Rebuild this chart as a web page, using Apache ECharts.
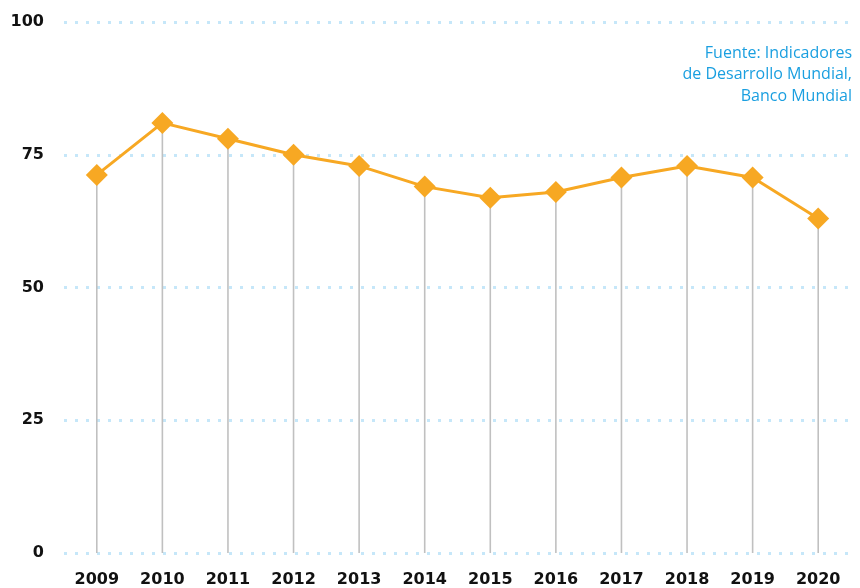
<!DOCTYPE html>
<html><head><meta charset="utf-8">
<script src="https://cdn.jsdelivr.net/npm/echarts@6/dist/echarts.min.js"></script>
<style>html,body{margin:0;padding:0;background:#fff}#c{width:860px;height:588px}</style>
</head><body><div id="c"></div>
<script>
const years = ['2009','2010','2011','2012','2013','2014','2015','2016','2017','2018','2019','2020'];
const values = [71.2, 81.0, 78.0, 75.0, 72.9, 69.0, 66.9, 68.0, 70.7, 72.9, 70.7, 63.0];
const yTicks = [0, 25, 50, 75, 100];
const sourceLines = ['Fuente: Indicadores', 'de Desarrollo Mundial,', 'Banco Mundial'];

const chart = echarts.init(document.getElementById('c'));
chart.setOption({
  animation: false,
  grid: { left: 64, right: 9, top: 22, bottom: 34 },
  graphic: sourceLines.map((t, i) => ({
    type: 'text', x: 852, y: 53 + i * 21.5,
    style: { text: t, fill: '#1a9fe0', font: '16px "Open Sans"', align: 'right', verticalAlign: 'middle' }
  })),
  xAxis: {
    type: 'category', data: years,
    axisLine: { show: false }, axisTick: { show: false },
    axisLabel: { color: '#111', fontFamily: 'DejaVu Sans', fontWeight: 'bold', fontSize: 16, margin: 19 }
  },
  yAxis: {
    type: 'value', min: yTicks[0], max: yTicks[yTicks.length - 1], interval: 25,
    axisLine: { show: false }, axisTick: { show: false },
    axisLabel: { color: '#111', fontFamily: 'DejaVu Sans', fontWeight: 'bold', fontSize: 16, margin: 20 },
    splitLine: { lineStyle: { color: '#c6e7f9', width: 3, type: [3, 8] } }
  },
  series: [
    { type: 'bar', data: values, barWidth: 1.6, itemStyle: { color: '#c0c0c0' }, silent: true, z: 1 },
    { type: 'line', data: values, symbol: 'diamond', symbolSize: [22, 22], z: 3,
      lineStyle: { color: '#f7a823', width: 3 }, itemStyle: { color: '#f7a823' } }
  ]
});
</script></body></html>
